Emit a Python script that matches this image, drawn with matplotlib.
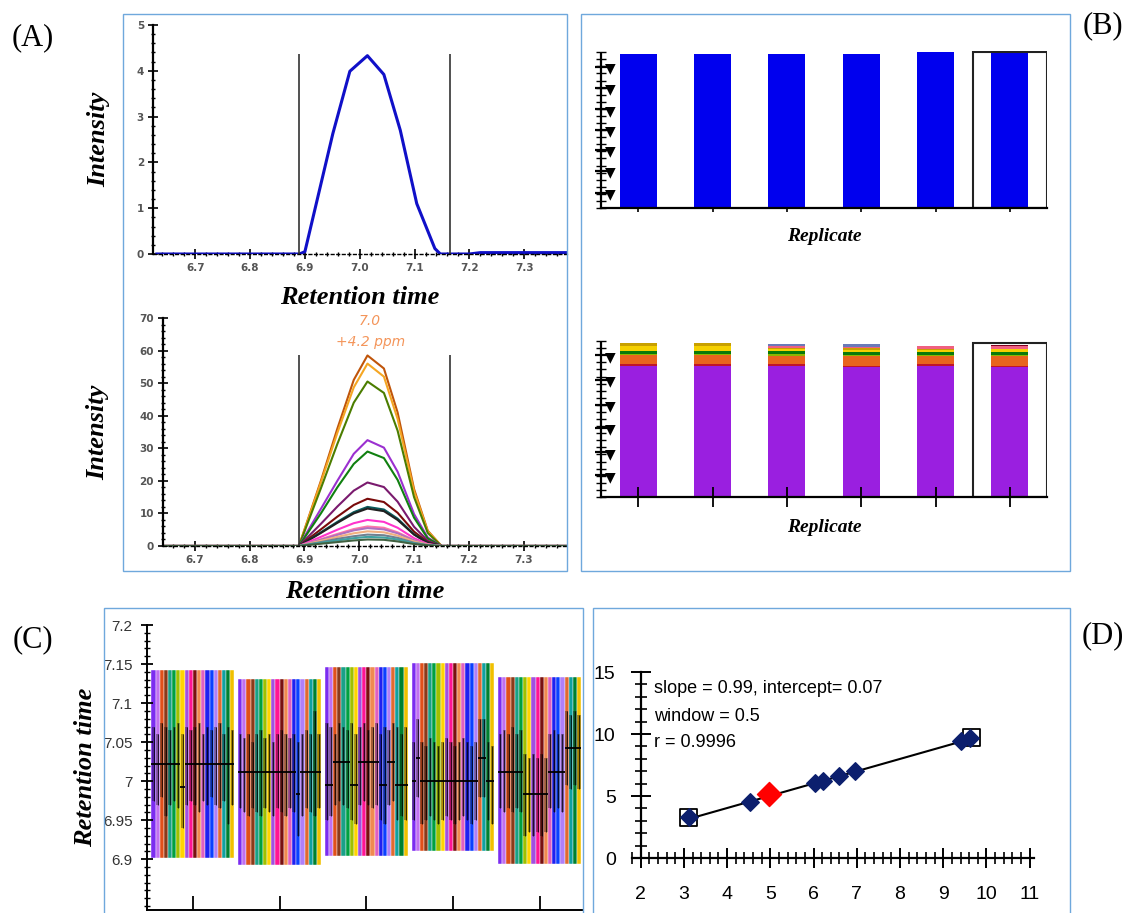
import matplotlib
matplotlib.use('Agg')
import matplotlib.pyplot as plt
from matplotlib.patches import Rectangle
from matplotlib.ticker import MultipleLocator, FormatStrFormatter
import numpy as np

# ---------------- data ----------------
# Panel A (top): single transition chromatogram
rt_top = [6.63, 6.89, 6.90, 6.951, 6.982, 7.014, 7.044, 7.074, 7.104, 7.137, 7.147, 7.165, 7.20, 7.22, 7.378]
int_top = [0, 0, 0.05, 2.63, 3.99, 4.33, 3.92, 2.70, 1.10, 0.12, 0, 0, 0, 0.03, 0.03]
bound_top = [6.89, 7.165]
bound_top_h = 4.37
rt_ticks = [6.7, 6.8, 6.9, 7.0, 7.1, 7.2, 7.3]

# Panel A (bottom): many transitions
rt_low = [6.645, 6.89, 6.93, 6.96, 6.99, 7.015, 7.045, 7.07, 7.10, 7.125, 7.15, 7.378]
low_colors = ['#c0550a', '#f5a623', '#4b7d00', '#9b30d0', '#108010', '#7a1a6e', '#7a0a0a',
              '#0a5a5a', '#202020', '#ff33cc', '#ff77aa', '#b070c0', '#f0b080', '#708090',
              '#40a0a0', '#406040']
low_curves = [
    [0, 0, 20.0, 36.0, 51.0, 58.5, 54.5, 41.0, 17.5, 4.7, 0, 0],
    [0, 0, 19.5, 34.7, 48.7, 56.0, 52.0, 39.0, 16.8, 4.5, 0, 0],
    [0, 0, 17.7, 31.3, 44.0, 50.5, 47.0, 35.4, 15.0, 4.0, 0, 0],
    [0, 0, 11.4, 20.0, 28.3, 32.5, 30.2, 22.8, 9.8, 2.6, 0, 0],
    [0, 0, 10.0, 18.0, 25.2, 29.0, 27.0, 20.3, 8.7, 2.3, 0, 0],
    [0, 0, 6.8, 12.1, 17.0, 19.5, 18.1, 13.6, 5.9, 1.6, 0, 0],
    [0, 0, 5.1, 9.0, 12.6, 14.5, 13.5, 10.2, 4.4, 1.2, 0, 0],
    [0, 0, 4.2, 7.4, 10.4, 12.0, 11.2, 8.4, 3.6, 1.0, 0, 0],
    [0, 0, 4.0, 7.1, 10.0, 11.5, 10.7, 8.0, 3.5, 0.9, 0, 0],
    [0, 0, 2.8, 5.0, 7.0, 8.0, 7.4, 5.6, 2.4, 0.6, 0, 0],
    [0, 0, 2.1, 3.7, 5.2, 6.0, 5.6, 4.2, 1.8, 0.5, 0, 0],
    [0, 0, 1.9, 3.4, 4.8, 5.5, 5.1, 3.9, 1.7, 0.4, 0, 0],
    [0, 0, 1.6, 2.8, 3.9, 4.5, 4.2, 3.2, 1.4, 0.4, 0, 0],
    [0, 0, 1.2, 2.2, 3.0, 3.5, 3.3, 2.5, 1.0, 0.3, 0, 0],
    [0, 0, 1.0, 1.7, 2.4, 2.8, 2.6, 2.0, 0.8, 0.2, 0, 0],
    [0, 0, 0.7, 1.2, 1.7, 2.0, 1.9, 1.4, 0.6, 0.2, 0, 0],
]
bound_low_h = 58.6
apex_label = ['7.0', '+4.2 ppm']

# Panel B: replicate peak areas (relative)
replicates = [0, 1, 2, 3, 4, 5]
b_total = [100.0, 100.0, 100.0, 100.0, 101.3, 101.3]
b_layer_colors = ['#9a1fe0', '#c0142a', '#e8641e', '#8db600', '#0a7a0a', '#f5d000',
                  '#c8a000', '#f06080', '#6a7ab8', '#800020']
b_layers = [
    [85.0, 85.0, 85.0, 84.5, 85.0, 84.5],
    [1.3, 1.3, 1.3, 0.6, 1.3, 0.6],
    [5.6, 5.6, 5.4, 6.4, 5.2, 6.4],
    [0.8, 0.8, 1.0, 0.5, 0.5, 0.5],
    [2.0, 2.0, 2.0, 2.3, 2.3, 2.3],
    [3.4, 3.4, 1.2, 1.4, 1.3, 1.5],
    [1.6, 1.6, 0.8, 0.8, 0.5, 0.5],
    [0.0, 0.0, 1.2, 1.0, 2.2, 1.6],
    [0.0, 0.0, 1.6, 1.6, 0.0, 0.0],
    [0.0, 0.0, 0.0, 0.0, 0.0, 0.8],
]
b_glyph_ticks_top = [10, 24, 37.5, 51, 64, 78, 91.5]
b_glyph_ticks_low = [14, 29, 45, 60, 76, 92]

# Panel C: retention-time replicate comparison
c_groups = [0, 1, 2, 3, 4]
c_start = [6.902, 6.892, 6.904, 6.910, 6.894]
c_end = [7.143, 7.131, 7.146, 7.151, 7.134]
c_colors = ['#7b2cf0', '#c070f0', '#e0501a', '#8b3a1a', '#1aa088', '#00a040', '#a0c000',
            '#ffd400', '#a050e0', '#ff1493', '#7a1010', '#f08a50', '#e060c0', '#2020f0',
            '#0a40ff', '#b080f8', '#e06a30', '#10a0a0', '#008030', '#f0c000']
c_apex = [
    [7.022, 7.022, 7.022, 7.022, 7.022, 7.022, 7.022, 6.993, 7.022, 7.022,
     7.022, 7.022, 7.022, 7.022, 7.022, 7.022, 7.022, 7.022, 7.022, 7.022],
    [7.012, 7.012, 7.012, 7.012, 7.012, 7.012, 7.012, 7.012, 7.012, 7.012,
     7.012, 7.012, 7.012, 7.012, 6.983, 7.012, 7.012, 7.012, 7.012, 7.012],
    [6.995, 6.995, 7.024, 7.024, 7.024, 7.024, 6.995, 6.995, 7.024, 7.024,
     7.024, 7.024, 7.024, 6.995, 6.995, 7.024, 7.024, 6.995, 6.995, 6.995],
    [7.000, 7.030, 7.000, 7.000, 7.000, 7.000, 7.000, 7.000, 7.000, 7.000,
     7.000, 7.000, 7.000, 7.000, 7.000, 7.000, 7.030, 7.030, 7.000, 7.000],
    [7.012, 7.012, 7.012, 7.012, 7.012, 7.012, 6.984, 6.984, 6.984, 6.984,
     6.984, 6.984, 7.012, 7.012, 7.012, 7.012, 7.043, 7.043, 7.043, 7.043],
]
c_fwhm_hi = [
    [7.07, 7.06, 7.075, 7.07, 7.065, 7.07, 7.075, 7.06, 7.07, 7.065,
     7.07, 7.075, 7.06, 7.07, 7.065, 7.07, 7.075, 7.06, 7.07, 7.065],
    [7.06, 7.055, 7.06, 7.05, 7.06, 7.065, 7.055, 7.06, 7.05, 7.06,
     7.065, 7.06, 7.055, 7.06, 7.05, 7.06, 7.065, 7.06, 7.09, 7.06],
    [7.075, 7.07, 7.06, 7.075, 7.07, 7.065, 7.075, 7.06, 7.07, 7.075,
     7.065, 7.07, 7.075, 7.06, 7.07, 7.065, 7.075, 7.07, 7.06, 7.07],
    [7.05, 7.08, 7.05, 7.045, 7.055, 7.05, 7.045, 7.05, 7.055, 7.05,
     7.045, 7.05, 7.055, 7.05, 7.045, 7.05, 7.08, 7.08, 7.05, 7.045],
    [7.06, 7.065, 7.06, 7.07, 7.06, 7.065, 7.035, 7.03, 7.035, 7.03,
     7.035, 7.03, 7.06, 7.065, 7.06, 7.06, 7.09, 7.085, 7.09, 7.085],
]
c_fwhm_lo = [
    [6.975, 6.97, 6.98, 6.955, 6.97, 6.975, 6.965, 6.94, 6.97, 6.975,
     6.97, 6.96, 6.975, 6.97, 6.98, 6.97, 6.965, 6.975, 6.945, 6.97],
    [6.965, 6.96, 6.955, 6.965, 6.96, 6.955, 6.965, 6.96, 6.955, 6.965,
     6.96, 6.955, 6.965, 6.96, 6.93, 6.955, 6.965, 6.96, 6.955, 6.965],
    [6.95, 6.955, 6.97, 6.975, 6.97, 6.965, 6.95, 6.945, 6.97, 6.975,
     6.97, 6.965, 6.97, 6.95, 6.945, 6.97, 6.975, 6.95, 6.955, 6.95],
    [6.95, 6.98, 6.945, 6.95, 6.955, 6.95, 6.945, 6.95, 6.955, 6.95,
     6.945, 6.95, 6.955, 6.95, 6.945, 6.95, 6.98, 6.98, 6.95, 6.945],
    [6.965, 6.96, 6.965, 6.96, 6.965, 6.96, 6.93, 6.935, 6.93, 6.935,
     6.93, 6.935, 6.965, 6.96, 6.965, 6.96, 6.995, 6.99, 6.995, 6.99],
]
c_yticks = [6.9, 6.95, 7.0, 7.05, 7.1, 7.15, 7.2]
c_yticklabels = ['6.9', '6.95', '7', '7.05', '7.1', '7.15', '7.2']

# Panel D: iRT regression
d_x = [3.12, 4.54, 6.04, 6.22, 6.58, 6.96, 9.42, 9.62]
d_y = [3.30, 4.55, 6.05, 6.20, 6.65, 7.05, 9.40, 9.65]
d_red_x = [4.98]
d_red_y = [5.15]
d_std_x = [3.10, 9.65]
d_std_y = [3.25, 9.75]
d_slope, d_intercept = 0.99, 0.07
d_fit_x = [3.1, 9.6]
d_text = ['slope = 0.99, intercept= 0.07', 'window = 0.5', 'r = 0.9996']

# ---------------- figure ----------------
W, H = 1126, 913
fig = plt.figure(figsize=(W / 100, H / 100), dpi=100)


def px(l, t, r, b):
    return [l / W, 1 - b / H, (r - l) / W, (b - t) / H]


SERIF = ['Liberation Serif', 'DejaVu Serif']
SANS = ['Liberation Sans', 'DejaVu Sans']
LBL = dict(family=SERIF, fontsize=19, fontweight='bold', style='italic')

# panel frames
for (l, t, r, b) in [(123, 14, 567, 571), (581, 14, 1070, 571), (104, 608, 583, 925), (593, 608, 1070, 925)]:
    fig.add_artist(Rectangle((l / W, 1 - b / H), (r - l) / W, (b - t) / H,
                             transform=fig.transFigure, fill=False, ec='#6fa8dc', lw=1.0))

# panel letters
for s, (x, y) in zip(['(A)', '(B)', '(C)', '(D)'], [(33, 38), (1103, 26), (33, 640), (1103, 636)]):
    fig.text(x / W, 1 - y / H, s, ha='center', va='center', family=SERIF, fontsize=22)


def style_chrom(ax, major_y, minor_y):
    for sp in ['top', 'right']:
        ax.spines[sp].set_visible(False)
    ax.spines['left'].set_linewidth(1.6)
    ax.spines['bottom'].set_linewidth(1.0)
    ax.spines['bottom'].set_linestyle((0, (2, 2)))
    ax.set_xticks(rt_ticks)
    ax.xaxis.set_major_formatter(FormatStrFormatter('%.1f'))
    ax.xaxis.set_minor_locator(MultipleLocator(0.02))
    ax.yaxis.set_major_locator(MultipleLocator(major_y))
    ax.yaxis.set_minor_locator(MultipleLocator(minor_y))
    ax.tick_params(axis='both', which='major', direction='inout', length=7, width=1.2,
                   labelsize=7.5, labelcolor='#555555', pad=3)
    ax.tick_params(axis='both', which='minor', direction='inout', length=3, width=1.0)
    ax.patch.set_alpha(0)
    for lb in ax.get_xticklabels() + ax.get_yticklabels():
        lb.set_fontweight('bold')


# ---- Panel A top
axA1 = fig.add_axes(px(153, 25, 567, 254))
axA1.plot(rt_top, int_top, color='#1010c8', lw=2.2)
axA1.vlines(bound_top, 0, bound_top_h, color='#333333', lw=1.2)
axA1.set_xlim(6.623, 7.378)
axA1.set_ylim(0, 5)
style_chrom(axA1, 1, 0.2)
axA1.set_ylabel('Intensity', labelpad=19, **LBL)
axA1.set_xlabel('Retention time', labelpad=9, **LBL)

# ---- Panel A bottom
axA2 = fig.add_axes(px(163, 318, 567, 546))
for col, ys in zip(low_colors, low_curves):
    axA2.plot(rt_low, ys, color=col, lw=1.5)
axA2.vlines(bound_top, 0, bound_low_h, color='#333333', lw=1.2)
axA2.set_xlim(6.642, 7.379)
axA2.set_ylim(0, 70)
style_chrom(axA2, 10, 2)
axA2.set_ylabel('Intensity', labelpad=22, **LBL)
axA2.set_xlabel('Retention time', labelpad=11, **LBL)
axA2.text(7.02, 69, apex_label[0], color='#f4955a', style='italic', fontsize=10, ha='center', va='center')
axA2.text(7.02, 62.7, apex_label[1], color='#f4955a', style='italic', fontsize=10, ha='center', va='center')


def style_bar(ax, glyph_ticks, top, lpad):
    for sp in ['top', 'right']:
        ax.spines[sp].set_visible(False)
    ax.spines['left'].set_linewidth(1.6)
    ax.spines['left'].set_bounds(0, top)
    ax.spines['bottom'].set_linewidth(1.6)
    ax.set_xlim(-0.5, 5.5)
    ax.set_xticks(replicates)
    ax.set_xticklabels([])
    ax.set_yticks(glyph_ticks, labels=['\u25BC'] * len(glyph_ticks))
    ax.yaxis.set_minor_locator(MultipleLocator(4.6))
    ax.tick_params(axis='y', which='major', direction='inout', length=8, width=1.6, labelsize=10, pad=-11)
    ax.tick_params(axis='y', which='minor', direction='inout', length=7, width=1.0)
    for lb in ax.get_yticklabels():
        lb.set_horizontalalignment('center')
    ax.set_xlabel('Replicate', family=SERIF, fontsize=14, fontweight='bold', style='italic', labelpad=lpad)
    ax.patch.set_alpha(0)


# ---- Panel B top
axB1 = fig.add_axes(px(601, 51, 1047, 208))
axB1.bar(replicates, b_total, width=0.5, color='#0000ee', lw=0)
axB1.add_patch(Rectangle((4.5, 0), 1.0, b_total[5], fill=False, ec='#222222', lw=1.5))
axB1.set_ylim(0, 102)
style_bar(axB1, b_glyph_ticks_top, 100, 8)
axB1.tick_params(axis='x', direction='out', length=3, width=1.2)

# ---- Panel B bottom
axB2 = fig.add_axes(px(601, 341, 1047, 497))
bottom = np.zeros(len(replicates))
for col, vals in zip(b_layer_colors, b_layers):
    axB2.bar(replicates, vals, width=0.5, bottom=bottom, color=col, lw=0)
    bottom = bottom + np.array(vals)
axB2.add_patch(Rectangle((4.5, 0), 1.0, 100, fill=False, ec='#222222', lw=1.5))
axB2.set_ylim(0, 101.3)
style_bar(axB2, b_glyph_ticks_low, 100, 5)
axB2.tick_params(axis='x', direction='inout', length=14, width=1.3)

# ---- Panel C
axC = fig.add_axes(px(147, 625, 583, 910))
group_w = 0.957
n = len(c_colors)
for g in c_groups:
    w = group_w / n
    for i in range(n):
        x0 = g - group_w / 2 + i * w
        axC.bar(x0, c_end[g] - c_start[g], bottom=c_start[g], width=w, align='edge',
                color=c_colors[i], ec='white', lw=0.3)
        lo, hi = c_fwhm_lo[g][i], c_fwhm_hi[g][i]
        axC.bar(x0 + 0.1 * w, hi - lo, bottom=lo, width=0.8 * w, align='edge', color='black', alpha=0.33, lw=0)
        axC.vlines(x0 + 0.5 * w, lo, hi, color='black', lw=0.6, alpha=0.85)
        axC.hlines(c_apex[g][i], x0, x0 + w, color='black', lw=1.3)
axC.set_xlim(-0.53, 4.5)
axC.set_ylim(6.835, 7.2)
for sp in ['top', 'right']:
    axC.spines[sp].set_visible(False)
axC.spines['left'].set_linewidth(1.4)
axC.spines['bottom'].set_linewidth(1.4)
axC.set_xticks(c_groups)
axC.set_xticklabels([])
axC.set_yticks(c_yticks, labels=c_yticklabels)
axC.yaxis.set_minor_locator(MultipleLocator(0.01))
axC.tick_params(axis='y', which='major', direction='inout', length=9, width=1.3, labelsize=11, pad=6)
axC.tick_params(axis='y', which='minor', direction='inout', length=5, width=1.0)
axC.tick_params(axis='x', direction='in', length=10, width=1.3)
for lb in axC.get_yticklabels():
    lb.set_family(SANS)
    lb.set_color('#333333')
axC.set_ylabel('Retention time', labelpad=4, **LBL)
axC.patch.set_alpha(0)

# ---- Panel D
axD = fig.add_axes(px(632, 672, 1034, 858))
axD.plot(d_fit_x, [d_slope * v + d_intercept for v in d_fit_x], color='black', lw=1.5, zorder=2)
axD.scatter(d_std_x, d_std_y, marker='s', s=150, facecolor='none', edgecolor='black', lw=1.3, zorder=3)
axD.scatter(d_x, d_y, marker='D', s=80, color='#0c1f6e', zorder=4)
axD.scatter(d_red_x, d_red_y, marker='D', s=150, color='#ff0000', zorder=5)
axD.set_xlim(1.8, 11.1)
axD.set_ylim(0, 15)
for sp in ['top', 'right']:
    axD.spines[sp].set_visible(False)
axD.spines['left'].set_position(('data', 2))
axD.spines['left'].set_linewidth(1.6)
axD.spines['bottom'].set_linewidth(1.6)
axD.set_xticks(range(2, 12))
axD.set_yticks([0, 5, 10, 15])
axD.xaxis.set_minor_locator(MultipleLocator(0.2))
axD.yaxis.set_minor_locator(MultipleLocator(1))
axD.tick_params(axis='both', which='major', direction='inout', length=14, width=1.4, labelsize=14, pad=11)
axD.tick_params(axis='x', which='major', pad=13)
axD.tick_params(axis='both', which='minor', direction='inout', length=8, width=1.2)
for lb in axD.get_xticklabels() + axD.get_yticklabels():
    lb.set_family(SANS)
axD.text(2.3, 13.7, d_text[0], family=SANS, fontsize=13, va='center')
axD.text(2.3, 11.4, d_text[1], family=SANS, fontsize=13, va='center')
axD.text(2.3, 9.3, d_text[2], family=SANS, fontsize=13, va='center')
axD.patch.set_alpha(0)

fig.savefig('out.png', dpi=100)
